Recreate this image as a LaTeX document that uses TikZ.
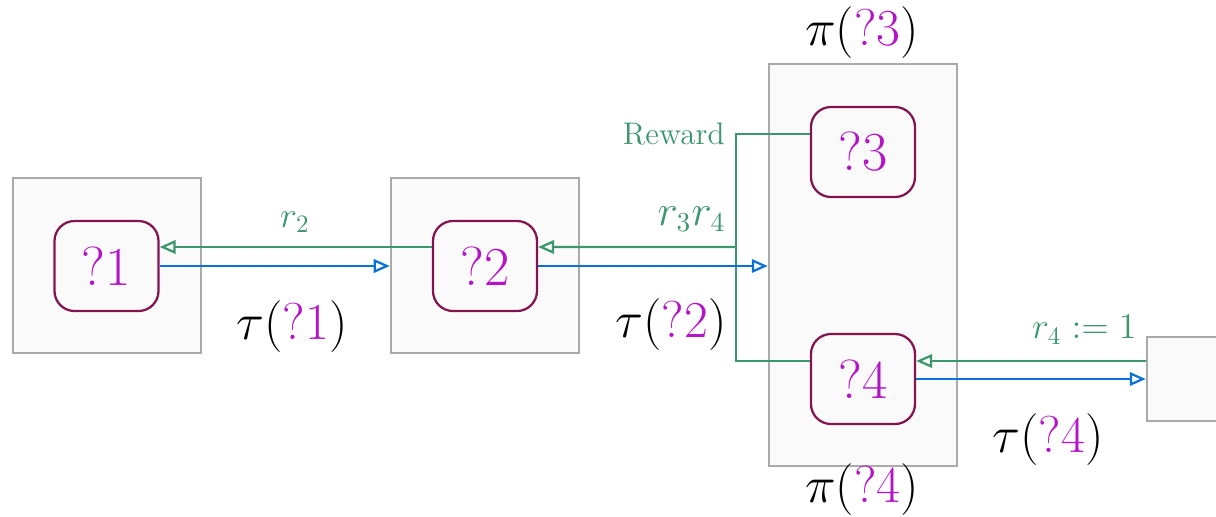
\documentclass[tikz,border=0pt]{standalone}
\usepackage{xcolor}
\usetikzlibrary{positioning,arrows.meta}
\definecolor{rwgreen}{RGB}{60,150,110}
\definecolor{trblue}{RGB}{10,112,218}
\definecolor{holemag}{RGB}{180,20,200}
\definecolor{holeedge}{RGB}{130,20,80}
\definecolor{boxgray}{RGB}{170,170,170}
\definecolor{boxfill}{RGB}{250,250,250}
\newcommand{\hole}[1]{\textcolor{holemag}{?#1}}

\begin{document}
\begin{tikzpicture}[
  x=0.4pt, y=-0.4pt,
  env/.style={draw=boxgray, fill=boxfill, line width=1pt, inner sep=0pt, minimum width=75.2pt, minimum height=70pt},
  holebox/.style={draw=holeedge, fill=boxfill, line width=0.9pt, rounded corners=8pt, inner sep=0pt, minimum width=41.6pt, minimum height=36pt, font=\fontsize{22}{26}\selectfont, text=holemag},
  big/.style={font=\fontsize{21}{25}\selectfont, inner sep=0pt},
  lbl/.style={font=\fontsize{14}{17}\selectfont, text=rwgreen, inner sep=0pt},
  rew/.style={-{Triangle[open, length=6.4pt, width=5.4pt]}, rwgreen, line width=0.9pt},
  tr/.style={-{Triangle[open, length=6.4pt, width=5.4pt]}, trblue, line width=0.9pt}
]
  \useasboundingbox (0,0) rectangle (1216,516);

  % environments
  \node[env] (envA) at (107,265.5) {};
  \node[env] (envB) at (485,265.5) {};
  \node[env, minimum height=160.8pt] (envC) at (863,265) {};
  \node[env, minimum width=40pt, minimum height=33.6pt] (envD) at (1197,379) {};

  % holes
  \node[holebox] (q1) at (106.5,266) {?1};
  \node[holebox] (q2) at (485,266) {?2};
  \node[holebox] (q3) at (863,152) {?3};
  \node[holebox] (q4) at (863,379) {?4};

  % labels
  \node[lbl] (r2) at (295,222) {$r_2$};
  \node[lbl, anchor=east, font=\fontsize{16}{19}\selectfont] (r34) at (726,219) {$r_3r_4$};
  \node[lbl, anchor=east] (r4) at (1137,330) {$r_4 := 1$};
  \node[lbl, anchor=east, font=\fontsize{12.5}{15}\selectfont] (rwd) at (725,134) {Reward};
  \node[big] (t1) at (292,327) {$\tau(\hole{1})$};
  \node[big, anchor=east] (t2) at (727,325) {$\tau(\hole{2})$};
  \node[big] (t4) at (1048,440) {$\tau(\hole{4})$};
  \node[big] (p3) at (862,33) {$\pi(\hole{3})$};
  \node[big] (p4) at (862,490) {$\pi(\hole{4})$};

  \coordinate (jn) at (736,247);
  \coordinate (q4g) at ([yshift=7.2pt]q4.east);

  % rewards
  \draw[rew] ([yshift=7.6pt]q2.west) -- ([yshift=7.6pt]q1.east);
  \draw[rew] (jn) -- ([yshift=7.6pt]q2.east);
  \draw[rwgreen, line width=0.9pt] ([yshift=7.2pt]q3.west) -| (jn) |- ([yshift=7.2pt]q4.west);
  \draw[rew] (envD.west |- q4g) -- (q4g);

  % transitions
  \draw[tr] (q1.east) -- (envB.west |- q1.east);
  \draw[tr] (q2.east) -- (envC.west |- q2.east);
  \draw[tr] (q4.east) -- (envD.west |- q4.east);
\end{tikzpicture}
\end{document}
